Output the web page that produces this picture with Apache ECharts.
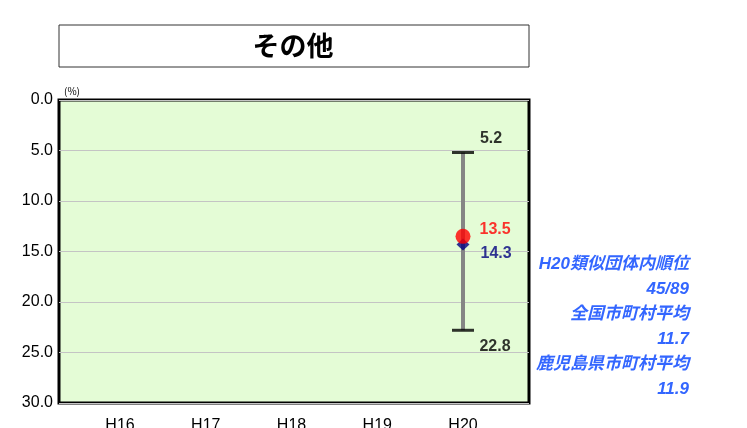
<!DOCTYPE html>
<html><head><meta charset="utf-8">
<script src="https://cdn.jsdelivr.net/npm/echarts@6/dist/echarts.min.js"></script>
<style>html,body{margin:0;padding:0;background:#fff}#c{width:747px;height:428px}</style>
</head><body><div id="c"></div>
<script>
const titleText = 'その他';
const categories = ['H16', 'H17', 'H18', 'H19', 'H20'];
const lowVals = [null, null, null, null, 5.2];
const highVals = [null, null, null, null, 22.8];
const cityVals = [null, null, null, null, 13.5];
const groupAvgVals = [null, null, null, null, 14.3];
const yTicks = [0, 5, 10, 15, 20, 25, 30];
const sideLines = ['H20類似団体内順位', '45/89', '全国市町村平均', '11.7', '鹿児島県市町村平均', '11.9'];

const numFont = "'Liberation Sans', Arial, sans-serif";
const sideFont = "'Liberation Sans', 'Noto Sans CJK JP', sans-serif";
const jpFont = "'Noto Sans CJK JP', sans-serif";

const chart = echarts.init(document.getElementById('c'), null, {renderer: 'canvas'});

const rangeData = categories.map((c, i) => [i, lowVals[i], highVals[i]]).filter(d => d[1] != null);
const capTop = categories.map((c, i) => [i, lowVals[i]]).filter(d => d[1] != null);
const capBot = categories.map((c, i) => [i, highVals[i]]).filter(d => d[1] != null);
const cityPts = categories.map((c, i) => [i, cityVals[i]]).filter(d => d[1] != null);
const avgPts = categories.map((c, i) => [i, groupAvgVals[i]]).filter(d => d[1] != null);

const sideGraphics = sideLines.map((t, i) => ({
  type: 'text', x: 689, y: 264 + i * 25,
  style: {text: t, fill: '#3366ff', font: "italic bold 17px " + sideFont, align: 'right', verticalAlign: 'middle'}
}));

chart.setOption({
  animation: false,
  backgroundColor: '#fff',
  grid: [
    {left: 59, top: 100, width: 470, height: 303, show: true, backgroundColor: '#e4fcd6', borderColor: '#000', borderWidth: 3, z: 0, outerBoundsMode: 'none', containLabel: false},
    {left: 120, top: 100, width: 343, height: 303, show: false, outerBoundsMode: 'none', containLabel: false}
  ],
  xAxis: [
    {gridIndex: 0, type: 'category', data: categories, show: false},
    {gridIndex: 1, type: 'category', data: categories, boundaryGap: false,
     axisLine: {show: false}, axisTick: {show: false}, splitLine: {show: false},
     axisLabel: {margin: 15, color: '#000', fontSize: 16, fontFamily: numFont}}
  ],
  yAxis: [
    {gridIndex: 0, type: 'value', inverse: true, min: 0, max: 30, interval: 5,
     axisLine: {show: false}, axisTick: {show: false},
     splitLine: {show: true, lineStyle: {color: '#c4c4c4', width: 1}},
     axisLabel: {margin: 6, color: '#000', fontSize: 16, fontFamily: numFont, formatter: v => v.toFixed(1)},
     name: '(%)', nameLocation: 'start', nameGap: 4,
     nameTextStyle: {fontSize: 10, color: '#000', align: 'left', padding: [0, 0, 0, 5], fontFamily: jpFont}},
    {gridIndex: 1, type: 'value', inverse: true, min: 0, max: 30, show: false}
  ],
  series: [
    {
      type: 'custom', xAxisIndex: 1, yAxisIndex: 1, data: rangeData, z: 2,
      renderItem: (params, api) => {
        const a = api.coord([api.value(0), api.value(1)]);
        const b = api.coord([api.value(0), api.value(2)]);
        return {type: 'line', shape: {x1: a[0], y1: a[1], x2: b[0], y2: b[1]},
                style: {stroke: '#858585', lineWidth: 4}};
      }
    },
    {
      type: 'scatter', xAxisIndex: 1, yAxisIndex: 1, data: capTop, z: 3,
      symbol: 'rect', symbolSize: [22, 3], itemStyle: {color: '#000'},
      label: {show: true, position: 'top', offset: [28, 1], formatter: p => p.value[1].toFixed(1),
              color: '#000', fontSize: 16, fontWeight: 'bold', fontFamily: numFont}
    },
    {
      type: 'scatter', xAxisIndex: 1, yAxisIndex: 1, data: capBot, z: 3,
      symbol: 'rect', symbolSize: [22, 3], itemStyle: {color: '#000'},
      label: {show: true, position: 'bottom', offset: [32, 2], formatter: p => p.value[1].toFixed(1),
              color: '#000', fontSize: 16, fontWeight: 'bold', fontFamily: numFont}
    },
    {
      type: 'scatter', xAxisIndex: 1, yAxisIndex: 1, data: avgPts, z: 4,
      symbol: 'diamond', symbolSize: [13, 12], itemStyle: {color: '#000080'},
      label: {show: true, position: 'right', distance: 11, offset: [0, 9], formatter: p => p.value[1].toFixed(1),
              color: '#000080', fontSize: 16, fontWeight: 'bold', fontFamily: numFont}
    },
    {
      type: 'scatter', xAxisIndex: 1, yAxisIndex: 1, data: cityPts, z: 5,
      symbol: 'circle', symbolSize: 15, itemStyle: {color: '#ff0000'},
      label: {show: true, position: 'right', distance: 9, offset: [0, -7], formatter: p => p.value[1].toFixed(1),
              color: '#ff0000', fontSize: 16, fontWeight: 'bold', fontFamily: numFont}
    }
  ],
  graphic: [
    {type: 'rect', x: 59, y: 25, shape: {width: 470, height: 42},
     style: {fill: '#fff', stroke: '#333', lineWidth: 1}},
    {type: 'text', x: 293, y: 46,
     style: {text: titleText, fill: '#000', font: "bold 27px " + jpFont, align: 'center', verticalAlign: 'middle'}}
  ].concat(sideGraphics)
});
</script></body></html>
